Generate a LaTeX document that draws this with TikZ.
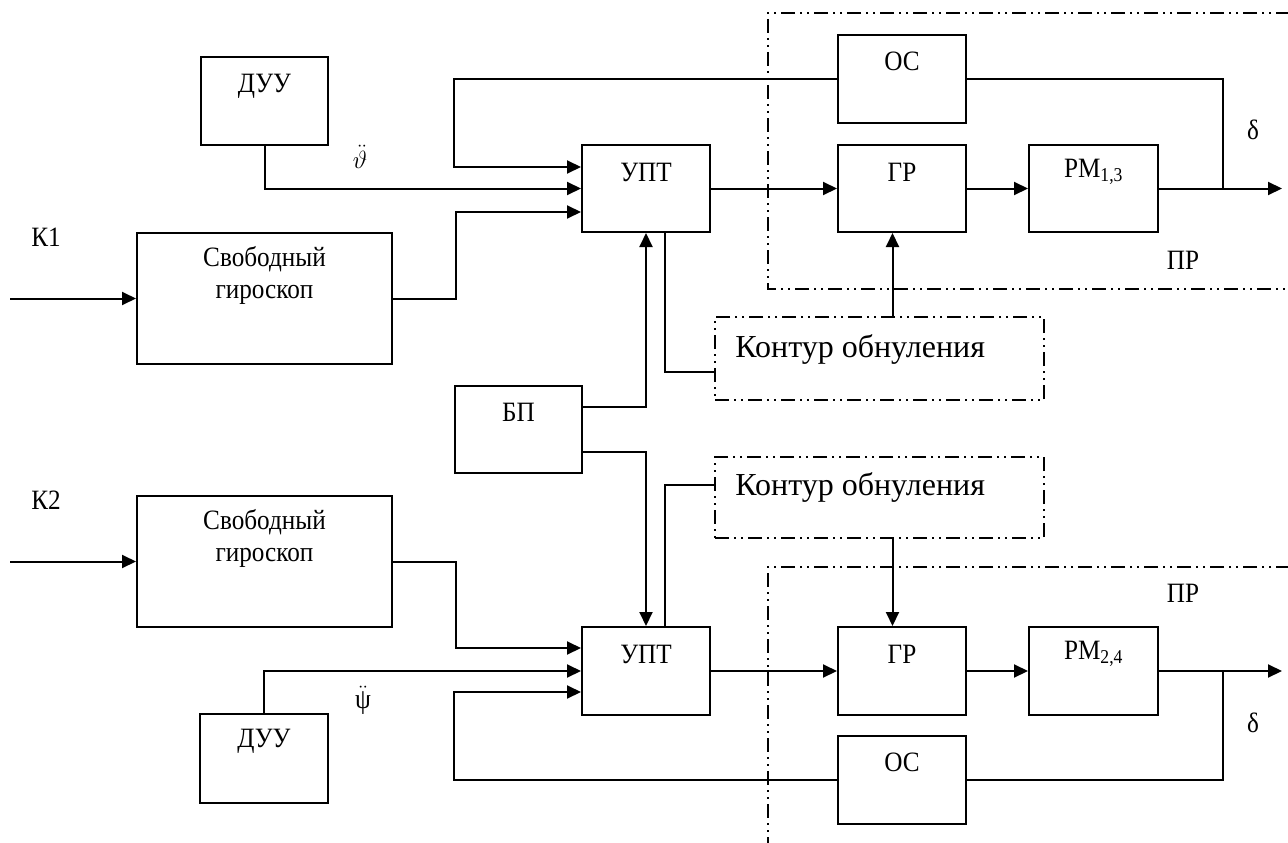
\documentclass[tikz,border=0pt]{standalone}
\usepackage{fontspec}
\setmainfont{Liberation Serif}
\newfontfamily\condfont[FakeStretch=0.9]{Liberation Serif}
\usetikzlibrary{arrows.meta}
\begin{document}
\begin{tikzpicture}[x=1pt,y=-1pt,
  every node/.style={font=\condfont\fontsize{28}{32}\selectfont},
  box/.style={draw, line width=2pt, inner sep=0pt},
  kbox/.style={draw, line width=1.6pt, inner sep=0pt, dash pattern=on 14pt off 5pt on 2pt off 5pt on 2pt off 5pt},
  lab/.style={anchor=center, inner sep=0pt, yshift=-#1},
  lab/.default=28pt,
  klab/.style={anchor=west, inner sep=0pt, xshift=21pt, yshift=-#1, font=\fontsize{32}{36}\selectfont},
  arr/.style={line width=2pt, -{Triangle[length=14pt,width=13pt]}},
  ln/.style={line width=2pt},
  frame/.style={line width=1.6pt, dash pattern=on 14pt off 5pt on 2pt off 5pt on 2pt off 5pt},
  txt/.style={inner sep=0pt, anchor=center}
]
\useasboundingbox (0,0) rectangle (1288,843);

% ---------- frames ПР ----------
\coordinate (f1a) at (1290,13);
\coordinate (f1b) at (768,13);
\coordinate (f1c) at (768,289);
\coordinate (f1d) at (1290,289);
\draw[frame] (f1a) -- (f1b) -- (f1c) -- (f1d);
\coordinate (f2a) at (1290,567);
\coordinate (f2b) at (768,567);
\coordinate (f2c) at (768,845);
\draw[frame] (f2a) -- (f2b) -- (f2c);

% ---------- upper channel ----------
\node[box, minimum width=127pt, minimum height=88pt, label={[lab=30pt]north:ДУУ}] (duu1) at (264.5,101) {};
\node[box, minimum width=255pt, minimum height=131pt,
  label={[lab=43pt, align=center]north:Свободный\\гироскоп}] (gyro1) at (264.5,298.5) {};
\node[box, minimum width=128pt, minimum height=87pt, label={[lab]north:УПТ}] (upt1) at (646,188.5) {};
\node[box, minimum width=128pt, minimum height=88pt, label={[lab=27pt]north:ОС}] (oc1) at (902,79) {};
\node[box, minimum width=128pt, minimum height=87pt, label={[lab]north:ГР}] (gr1) at (902,188.5) {};
\node[box, minimum width=129pt, minimum height=87pt, label={[lab]north:РМ\textsubscript{1,3}}] (rm1) at (1093.5,188.5) {};
\node[box, minimum width=127pt, minimum height=87pt, label={[lab=27pt]north:БП}] (bp) at (518.5,429.5) {};
\node[kbox, minimum width=329pt, minimum height=83pt,
  label={[klab=33pt]north west:Контур обнуления}] (kont1) at (879.5,358.5) {};

\node[txt] (k1) at (46,237) {К1};
\node[txt] (th) at (360,157) {$\ddot{\vartheta}$};
\node[txt] (d1) at (1253,130) {δ};
\node[txt] (pr1) at (1183,260) {ПР};

\coordinate (in1) at (10,298.5);
\coordinate (out1) at (1282,188.5);

\draw[arr] (in1) -- (gyro1.west);
\draw[arr] (gyro1.east) -- ++(63,0) |- ([yshift=-23.5pt]upt1.west);
\draw[arr] (duu1.south) |- (upt1.west);
\draw[arr] (oc1.west) -| ([xshift=-127pt,yshift=21.5pt]upt1.west) -- ([yshift=21.5pt]upt1.west);
\draw[arr] (upt1.east) -- (gr1.west);
\draw[arr] (gr1.east) -- (rm1.west);
\draw[arr] (rm1.east) -- (out1);
\draw[ln] (oc1.east) -| ([xshift=64pt]rm1.east);
\draw[arr] ([yshift=22.5pt]bp.east) -| (upt1.south);
\draw[ln] ([xshift=19pt]upt1.south) |- ([yshift=-13.5pt]kont1.west);
\draw[arr] ([xshift=13pt]kont1.north) -- ([xshift=13pt]kont1.north |- gr1.south);

% ---------- lower channel ----------
\node[box, minimum width=128pt, minimum height=89pt, label={[lab]north:ДУУ}] (duu2) at (264,758.5) {};
\node[box, minimum width=255pt, minimum height=131pt,
  label={[lab=43pt, align=center]north:Свободный\\гироскоп}] (gyro2) at (264.5,561.5) {};
\node[box, minimum width=128pt, minimum height=88pt, label={[lab]north:УПТ}] (upt2) at (646,671) {};
\node[box, minimum width=128pt, minimum height=88pt, label={[lab]north:ГР}] (gr2) at (902,671) {};
\node[box, minimum width=129pt, minimum height=88pt, label={[lab]north:РМ\textsubscript{2,4}}] (rm2) at (1093.5,671) {};
\node[box, minimum width=128pt, minimum height=88pt, label={[lab=27pt]north:ОС}] (oc2) at (902,780) {};
\node[kbox, minimum width=329pt, minimum height=81pt,
  label={[klab=31pt]north west:Контур обнуления}] (kont2) at (879.5,497.5) {};

\node[txt] (k2) at (46,500) {К2};
\node[txt] (ps) at (363,700) {$\ddot{\mbox{ψ}}$};
\node[txt] (d2) at (1253,723) {δ};
\node[txt] (pr2) at (1183,593) {ПР};

\coordinate (in2) at (10,561.5);
\coordinate (out2) at (1282,671);

\draw[arr] (in2) -- (gyro2.west);
\draw[arr] (gyro2.east) -- ++(63,0) |- ([yshift=23pt]upt2.west);
\draw[arr] (duu2.north) |- (upt2.west);
\draw[arr] (oc2.west) -| ([xshift=-127pt,yshift=-21pt]upt2.west) -- ([yshift=-21pt]upt2.west);
\draw[arr] (upt2.east) -- (gr2.west);
\draw[arr] (gr2.east) -- (rm2.west);
\draw[arr] (rm2.east) -- (out2);
\draw[ln] (oc2.east) -| ([xshift=64pt]rm2.east);
\draw[arr] ([yshift=-22.5pt]bp.east) -| (upt2.north);
\draw[ln] ([xshift=19pt]upt2.north) |- ([yshift=12.5pt]kont2.west);
\draw[arr] ([xshift=13pt]kont2.south) -- ([xshift=13pt]kont2.south |- gr2.north);
\end{tikzpicture}
\end{document}
